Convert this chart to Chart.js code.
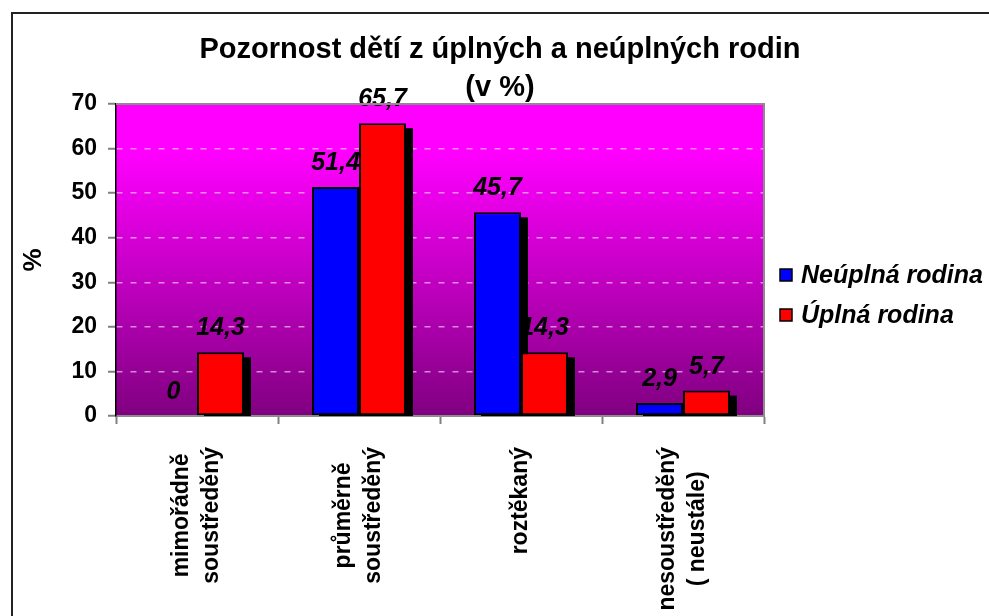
<!DOCTYPE html>
<html>
<head>
<meta charset="utf-8">
<script src="https://cdn.jsdelivr.net/npm/chart.js@4/dist/chart.umd.min.js"></script>
<style>
html, body { margin: 0; padding: 0; background: #fff; }
#wrap { position: relative; width: 989px; height: 616px; }
</style>
</head>
<body>
<div id="wrap"><canvas id="chart"></canvas></div>
<script>
const titleLines = ["Pozornost dětí z úplných a neúplných rodin", "(v %)"];
const categories = [
    ["mimořádně", "soustředěný"],
    ["průměrně", "soustředěný"],
    ["roztěkaný"],
    ["nesoustředěný", "( neustále)"]
];
const seriesNames = ["Neúplná rodina", "Úplná rodina"];
const incompleteFamily = [0, 51.4, 45.7, 2.9];
const completeFamily = [14.3, 65.7, 14.3, 5.7];
const yMin = 0, yMax = 70, yStep = 10;

const fontFamily = "'Liberation Sans', Arial, sans-serif";
const blue = "#0000FF";
const red = "#FF0000";

// background gradient, bar shadows, frame, title, legend, category labels, value labels
const decor = {
    id: 'decor',
    beforeDraw(chart) {
        const {ctx, chartArea: a} = chart;
        const g = ctx.createLinearGradient(0, a.top, 0, a.bottom);
        g.addColorStop(0, '#ff00ff');
        g.addColorStop(0.15, '#ff00ff');
        g.addColorStop(1, '#800080');
        ctx.save();
        ctx.fillStyle = g;
        ctx.fillRect(a.left, a.top, a.right - a.left, a.bottom - a.top);
        ctx.restore();
    },
    beforeDatasetsDraw(chart) {
        // drop shadows under every bar first, so bars of the other series stay on top
        const {ctx, chartArea: a} = chart;
        ctx.save();
        ctx.beginPath();
        ctx.rect(a.left, a.top, a.right - a.left, a.bottom - a.top);
        ctx.clip();
        ctx.fillStyle = '#000';
        chart.data.datasets.forEach((ds, i) => {
            chart.getDatasetMeta(i).data.forEach((bar) => {
                const p = bar.getProps(['x', 'y', 'base', 'width']);
                if (p.base - p.y < 1) return;
                ctx.fillRect(p.x - p.width / 2 + 7, p.y + 5, p.width, p.base - p.y);
            });
        });
        ctx.restore();
    },
    afterDatasetsDraw(chart) {
        const ctx = chart.ctx;
        ctx.save();
        ctx.font = "italic bold 25px " + fontFamily;
        ctx.fillStyle = '#000';
        ctx.textAlign = 'center';
        ctx.textBaseline = 'alphabetic';
        chart.data.datasets.forEach((ds, i) => {
            chart.getDatasetMeta(i).data.forEach((bar, j) => {
                const txt = String(ds.data[j]).replace('.', ',');
                ctx.fillText(txt, bar.x, bar.y - 17);
            });
        });
        ctx.restore();
    },
    afterDraw(chart) {
        const {ctx, chartArea: a} = chart;
        ctx.save();
        // plot border top/right
        ctx.strokeStyle = '#8c8c8c';
        ctx.lineWidth = 2;
        ctx.beginPath();
        ctx.moveTo(a.left, a.top);
        ctx.lineTo(a.right, a.top);
        ctx.lineTo(a.right, a.bottom);
        ctx.stroke();

        // outer frame (left + top)
        ctx.strokeStyle = '#222';
        ctx.lineWidth = 2;
        ctx.beginPath();
        ctx.moveTo(12, chart.height);
        ctx.lineTo(12, 13);
        ctx.lineTo(chart.width, 13);
        ctx.stroke();

        // title
        ctx.fillStyle = '#000';
        ctx.textAlign = 'center';
        ctx.textBaseline = 'middle';
        ctx.font = "bold 29px " + fontFamily;
        ctx.fillText(titleLines[0], 500, 50);
        ctx.fillText(titleLines[1], 500, 88);

        // legend
        ctx.font = "italic bold 25px " + fontFamily;
        ctx.textAlign = 'left';
        chart.data.datasets.forEach((ds, i) => {
            const y = 275 + i * 40;
            const x = a.right + 16;
            ctx.fillStyle = ds.backgroundColor;
            ctx.fillRect(x, y - 6, 12, 12);
            ctx.lineWidth = 1.5;
            ctx.strokeStyle = '#000';
            ctx.strokeRect(x, y - 6, 12, 12);
            ctx.fillStyle = '#000';
            ctx.fillText(ds.label, x + 21, y + 1);
        });

        // category labels, rotated, lines centred on each other
        const xs = chart.scales.x;
        ctx.font = "bold 23px " + fontFamily;
        ctx.textAlign = 'center';
        ctx.textBaseline = 'middle';
        const lh = 30;
        categories.forEach((lines, i) => {
            const px = xs.getPixelForTick(i);
            const maxW = Math.max(...lines.map(l => ctx.measureText(l).width));
            ctx.save();
            ctx.translate(px, a.bottom + 31);
            ctx.rotate(-Math.PI / 2);
            lines.forEach((l, k) => {
                ctx.fillText(l, -maxW / 2, (k - (lines.length - 1) / 2) * lh);
            });
            ctx.restore();
        });
        ctx.restore();
    }
};

const ctx = document.getElementById('chart').getContext('2d');
const chart = new Chart(ctx, {
    type: 'bar',
    data: {
        labels: categories,
        datasets: [
            {
                label: seriesNames[0],
                data: incompleteFamily,
                backgroundColor: blue,
                borderColor: '#000',
                borderWidth: 2,
                borderSkipped: false
            },
            {
                label: seriesNames[1],
                data: completeFamily,
                backgroundColor: red,
                borderColor: '#000',
                borderWidth: 2,
                borderSkipped: false
            }
        ]
    },
    options: {
        responsive: true,
        maintainAspectRatio: false,
        animation: false,
        categoryPercentage: 0.58,
        barPercentage: 1.0,
        layout: { padding: { left: 14, top: 104, right: 225, bottom: 0 } },
        plugins: {
            legend: { display: false },
            title: { display: false },
            tooltip: { enabled: false }
        },
        scales: {
            x: {
                afterFit: (s) => { s.height = 200; },
                ticks: { display: false },
                grid: {
                    drawOnChartArea: false,
                    drawTicks: true,
                    tickLength: 8,
                    tickColor: '#808080',
                    tickWidth: 2
                },
                border: { color: '#8c8c8c', width: 2 }
            },
            y: {
                min: yMin,
                max: yMax,
                afterFit: (s) => { s.width = 102; },
                ticks: {
                    stepSize: yStep,
                    color: '#000',
                    padding: 11,
                    font: { family: fontFamily, size: 23, weight: 'bold' }
                },
                grid: {
                    color: (c) => (c.tick && (c.tick.value === yMin || c.tick.value === yMax))
                        ? 'rgba(0,0,0,0)' : 'rgba(255,255,255,0.55)',
                    lineWidth: 1.5,
                    tickLength: 8,
                    tickColor: '#808080',
                    tickWidth: 2,
                    tickBorderDash: []
                },
                border: { color: '#000', width: 1.5, dash: [6, 8] },
                title: {
                    display: true,
                    text: '%',
                    color: '#000',
                    font: { family: fontFamily, size: 26, weight: 'bold' }
                }
            }
        }
    },
    plugins: [decor]
});
</script>
</body>
</html>
